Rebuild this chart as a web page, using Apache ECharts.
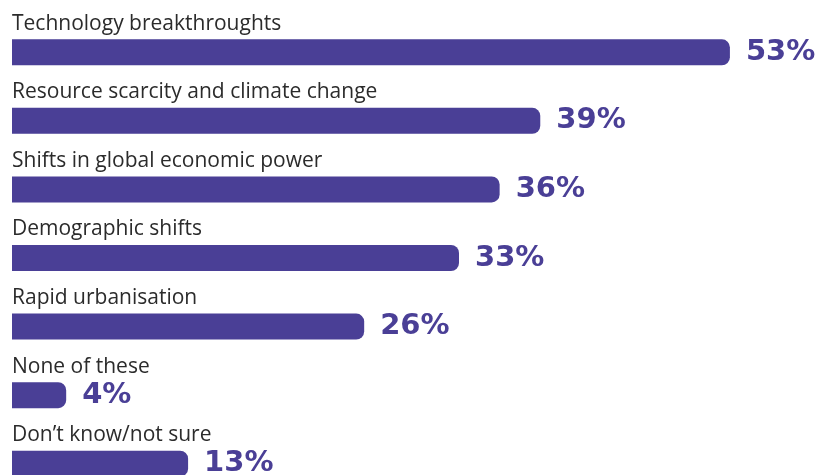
<!DOCTYPE html>
<html>
<head>
<meta charset="utf-8">
<script src="https://cdn.jsdelivr.net/npm/echarts@6/dist/echarts.min.js"></script>
<style>
  html, body { margin: 0; padding: 0; background: #fff; }
  #chart { width: 820px; height: 475px; }
</style>
</head>
<body>
<div id="chart"></div>
<script>
const categories = [
  'Technology breakthroughts',
  'Resource scarcity and climate change',
  'Shifts in global economic power',
  'Demographic shifts',
  'Rapid urbanisation',
  'None of these',
  'Don\u2019t know/not sure'
];
const shares = [53, 39, 36, 33, 26, 4, 13];

const barColor = '#4a3f96';

const myChart = echarts.init(document.getElementById('chart'));

const option = {
  animation: false,
  grid: { left: 12, top: 18, width: 745, height: 480, outerBoundsMode: 'none' },
  xAxis: {
    type: 'value',
    min: 0,
    max: 55,
    show: false
  },
  yAxis: {
    type: 'category',
    data: categories,
    inverse: true,
    show: false
  },
  series: [
    {
      // the bars with the category name sitting above each one
      type: 'bar',
      data: shares,
      barWidth: 26,
      itemStyle: { color: barColor, borderRadius: [0, 8, 8, 0] },
      label: {
        show: true,
        position: [0, -5],
        align: 'left',
        verticalAlign: 'bottom',
        formatter: '{b}',
        color: '#2b2b2b',
        fontFamily: 'Open Sans',
        fontSize: 21
      }
    },
    {
      // invisible copy, only used for the % figure on the right
      type: 'bar',
      data: shares,
      barWidth: 26,
      barGap: '-100%',
      itemStyle: { color: 'transparent' },
      label: {
        show: true,
        position: 'right',
        distance: 16,
        formatter: '{c}%',
        color: barColor,
        fontFamily: 'DejaVu Sans',
        fontWeight: 'bold',
        fontSize: 29
      }
    }
  ]
};

myChart.setOption(option);
</script>
</body>
</html>
